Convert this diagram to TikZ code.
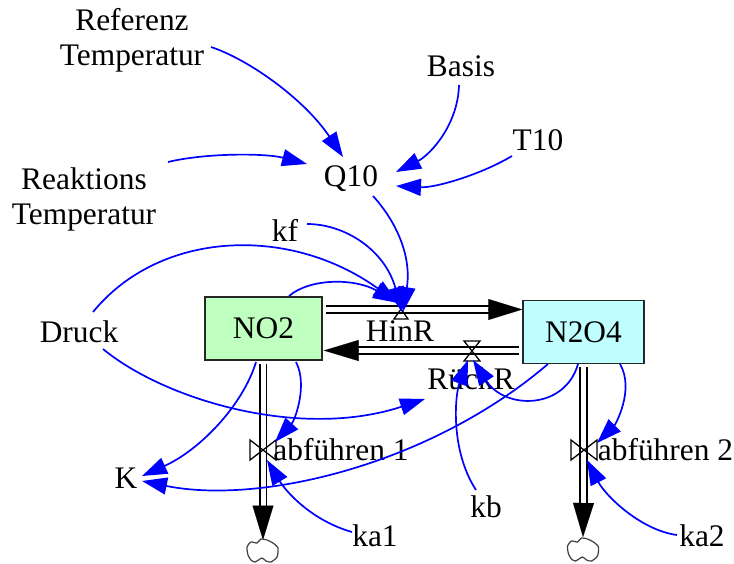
\documentclass[tikz,border=0pt]{standalone}
\usepackage{fontspec}
\setmainfont{Liberation Serif}
\usetikzlibrary{arrows.meta,calc}
\tikzset{
  lbl/.style={inner sep=0pt,outer sep=0pt,align=center,font=\fontsize{31.4}{35}\selectfont,text=black},
  stockbox/.style={draw=black!85,line width=1.5pt,inner sep=0pt,font=\fontsize{31.4}{35}\selectfont,text=black},
  lnk/.style={draw=blue,line width=1.7pt,-{Triangle[length=25pt,width=17pt,fill=blue]}},
  pipe/.style={draw=black,line width=1.9pt,double=white,double distance=5pt},
  head/.style={draw=black,line width=0.1pt,-{Triangle[length=#1,width=21pt,fill=black]}},
  vlv/.style={draw=black,line width=1.3pt},
  cloudy/.style={draw=black!75,line width=1.2pt},
}
\begin{document}
\begin{tikzpicture}[x=1pt,y=-1pt]
\clip (0,0) rectangle (734,563);
\fill[white] (0,0) rectangle (734,563);
% stocks
\node[stockbox,fill={rgb,255:red,191;green,255;blue,191},minimum width=117pt,minimum height=63pt] (no2) at (263.5,328.5) {NO2};
\node[stockbox,fill={rgb,255:red,191;green,255;blue,255},minimum width=121pt,minimum height=63pt] (n2o4) at (583.5,332) {N2O4};
% labels
\node[lbl] (refT) at (132,40.5) {Referenz\\Temperatur};
\node[lbl] (basis) at (461,66) {Basis};
\node[lbl] (t10) at (538,140) {T10};
\node[lbl] (q10) at (351,178.5) {Q10};
\node[lbl] (reakT) at (84,199) {Reaktions\\Temperatur};
\node[lbl] (kf) at (285,230) {kf};
\node[lbl] (druck) at (79,332) {Druck};
\node[lbl] (hinR) at (400,331) {HinR};
\node[lbl] (rueckR) at (471,379) {RückR};
\node[lbl] (k) at (126,478) {K};
\node[lbl] (ab1) at (341,450) {abführen 1};
\node[lbl] (ab2) at (665.5,450) {abführen 2};
\node[lbl] (ka1) at (375,536) {ka1};
\node[lbl] (kb) at (486,507) {kb};
\node[lbl] (ka2) at (702,536) {ka2};
% pipes
\coordinate (hb1) at (490,309.5);
\coordinate (hb2) at (358,350.5);
\coordinate (hb3) at (263,505.5);
\coordinate (hb4) at (583.5,503);
\draw[pipe] ([shift={(3,-19)}]no2.east) -- (hb1);
\draw[head=34pt] (hb1) -- ([shift={(0,-22.5)}]n2o4.west);
\draw[pipe] ([shift={(-3,18.5)}]n2o4.west) -- (hb2);
\draw[head=35pt] (hb2) -- ([shift={(1,22)}]no2.east);
\draw[pipe] ([shift={(-0.5,3)}]no2.south) -- (hb3);
\draw[head=34.5pt] (hb3) -- (263,540);
\draw[pipe] ([shift={(0,3)}]n2o4.south) -- (hb4);
\draw[head=34pt] (hb4) -- (583,537);
% valves
\coordinate (vHin) at (401,309);
\coordinate (vRueck) at (472,351);
\coordinate (vAb1) at (263,450);
\coordinate (vAb2) at (584,450);
\draw[vlv] (vHin) ++(-7,-10) -- ++(14,0) -- ++(-14,20) -- ++(14,0) -- cycle;
\draw[vlv] (vRueck) ++(-8,-10) -- ++(16,0) -- ++(-16,20) -- ++(16,0) -- cycle;
\draw[vlv] (vAb1) ++(-13,-10) -- ++(0,20) -- ++(26,-20) -- ++(0,20) -- cycle;
\draw[vlv] (vAb2) ++(-13,-10) -- ++(0,20) -- ++(26,-20) -- ++(0,20) -- cycle;
% clouds
\coordinate (cl1) at (262,553);
\coordinate (cl2) at (582.5,552);
\draw[cloudy] plot[smooth cycle,tension=0.4] coordinates {($(cl1)+(-15,-6)$) ($(cl1)+(-11,-11)$) ($(cl1)+(-5,-10)$) ($(cl1)+(-1,-14)$) ($(cl1)+(5,-13)$) ($(cl1)+(11,-10)$) ($(cl1)+(16,-5)$) ($(cl1)+(15,4)$) ($(cl1)+(9,9)$) ($(cl1)+(4,8)$) ($(cl1)+(0,5)$) ($(cl1)+(-7,9)$) ($(cl1)+(-11,7)$) ($(cl1)+(-14,2)$)};
\draw[cloudy] plot[smooth cycle,tension=0.4] coordinates {($(cl2)+(-15,-6)$) ($(cl2)+(-11,-11)$) ($(cl2)+(-5,-10)$) ($(cl2)+(-1,-14)$) ($(cl2)+(5,-13)$) ($(cl2)+(11,-10)$) ($(cl2)+(16,-5)$) ($(cl2)+(15,4)$) ($(cl2)+(9,9)$) ($(cl2)+(4,8)$) ($(cl2)+(0,5)$) ($(cl2)+(-7,9)$) ($(cl2)+(-11,7)$) ($(cl2)+(-14,2)$)};
% links
\draw[lnk] ([shift={(79,6.5)}]refT.center) .. controls (250,60) and (305,100) .. ([shift={(-8,-21.5)}]q10.center);
\draw[lnk] ([shift={(-2,19)}]basis.center) .. controls (458,125) and (430,155) .. ([shift={(45,-6.5)}]q10.center);
\draw[lnk] ([shift={(-26,16)}]t10.center) .. controls (480,175) and (435,188) .. ([shift={(45,7.5)}]q10.center);
\draw[lnk] ([shift={(84,-37)}]reakT.center) .. controls (205,153) and (265,153) .. ([shift={(-44,-14.5)}]q10.center);
\draw[lnk] ([shift={(22,17.5)}]q10.center) .. controls (395,220) and (412,255) .. ([shift={(2,3)}]vHin);
\draw[lnk] ([shift={(22,-6)}]kf.center) .. controls (345,224) and (385,250) .. ([shift={(1,3)}]vHin);
\draw[lnk] ([shift={(14,-20)}]druck.center) .. controls (160,230) and (290,225) .. ([shift={(-3,-6)}]vHin);
\draw[lnk] ([shift={(25.5,-32.5)}]no2.center) .. controls (310,278) and (355,278) .. ([shift={(-3,-6)}]vHin);
\draw[lnk] ([shift={(24,17)}]druck.center) .. controls (165,400) and (300,440) .. ([shift={(-46,20)}]rueckR.center);
\draw[lnk] ([shift={(-7.5,33.5)}]no2.center) .. controls (243,405) and (200,450) .. ([shift={(16,-2)}]k.center);
\draw[lnk] ([shift={(32.5,33.5)}]no2.center) .. controls (308,385) and (295,420) .. ([shift={(12,-8)}]vAb1);
\draw[lnk] ([shift={(-23,-4)}]ka1.center) .. controls (310,520) and (285,490) .. ([shift={(4,10)}]vAb1);
\draw[lnk] ([shift={(-35.5,32)}]n2o4.center) .. controls (430,465) and (260,505) .. ([shift={(16,3)}]k.center);
\draw[lnk] ([shift={(-5.5,32)}]n2o4.center) .. controls (565,410) and (505,410) .. ([shift={(1,9)}]vRueck);
\draw[lnk] ([shift={(-10,-17)}]kb.center) .. controls (450,450) and (455,395) .. ([shift={(-4,9)}]vRueck);
\draw[lnk] ([shift={(36.5,32)}]n2o4.center) .. controls (635,390) and (615,425) .. ([shift={(13,-7)}]vAb2);
\draw[lnk] ([shift={(-25,-1)}]ka2.center) .. controls (640,530) and (605,495) .. ([shift={(3,10)}]vAb2);
\end{tikzpicture}
\end{document}
